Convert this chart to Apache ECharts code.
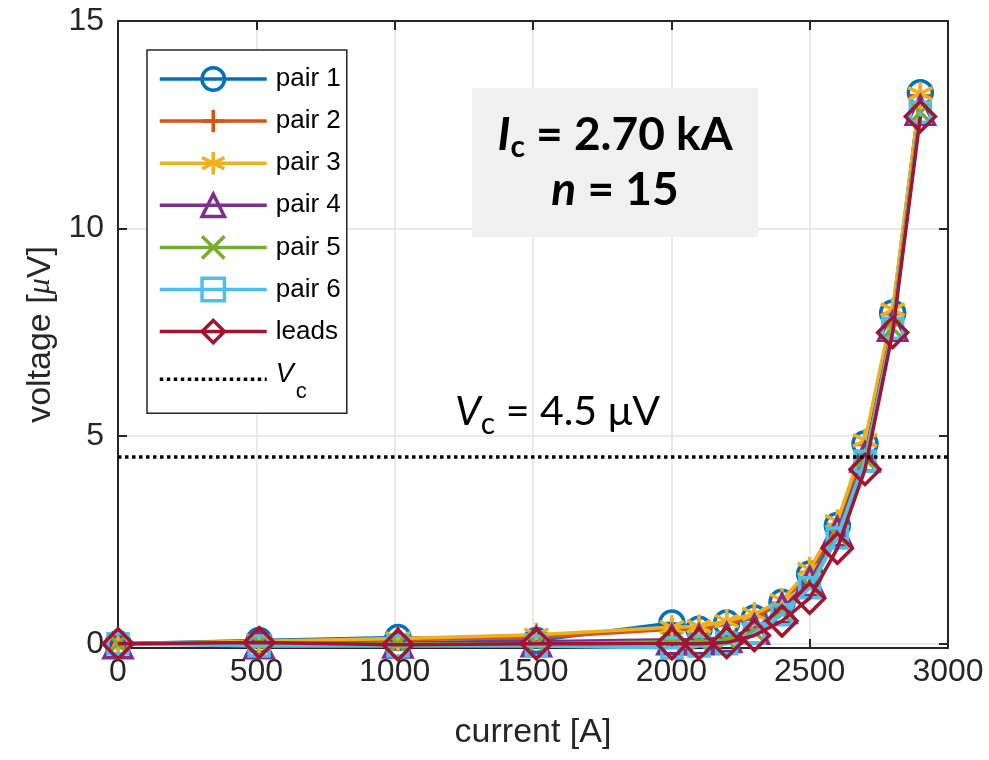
<!DOCTYPE html>
<html>
<head>
<meta charset="utf-8">
<script src="https://cdn.jsdelivr.net/npm/echarts@6/dist/echarts.min.js"></script>
<style>html,body{margin:0;padding:0;background:#fff}#c{width:989px;height:760px}</style>
</head>
<body>
<div id="c"></div>
<script>
// ---- data ----
const current = [0, 510, 1012, 1512, 2002, 2100, 2200, 2300, 2400, 2500, 2600, 2700, 2800, 2900];
const pair1 = [0, 0.08, 0.15, 0.08, 0.50, 0.35, 0.50, 0.62, 1.00, 1.68, 2.85, 4.82, 7.97, 13.27];
const pair2 = [0, 0.05, 0.10, 0.15, 0.35, 0.35, 0.48, 0.65, 0.98, 1.72, 2.87, 4.80, 7.95, 13.20];
const pair3 = [0, 0.06, 0.13, 0.22, 0.40, 0.42, 0.55, 0.72, 1.05, 1.80, 2.95, 4.90, 8.05, 13.25];
const pair4 = [0, 0.00, 0.02, 0.05, 0.10, 0.10, 0.15, 0.35, 0.85, 1.50, 2.70, 4.50, 7.65, 12.85];
const pair5 = [0, 0.02, 0.00, 0.00, 0.05, 0.05, 0.10, 0.30, 0.75, 1.40, 2.60, 4.45, 7.60, 12.80];
const pair6 = [0, -0.05, -0.05, -0.05, -0.10, -0.05, 0.00, 0.25, 0.70, 1.35, 2.55, 4.40, 7.60, 12.80];
const leads = [0, 0.03, -0.02, 0.00, 0.00, 0.00, 0.03, 0.20, 0.55, 1.10, 2.30, 4.20, 7.50, 12.70];
const Vc = 4.5;
const vcRange = [0, 3000];
const seriesNames = ['pair 1', 'pair 2', 'pair 3', 'pair 4', 'pair 5', 'pair 6', 'leads'];
const seriesValues = [pair1, pair2, pair3, pair4, pair5, pair6, leads];
const xTicks = [0, 500, 1000, 1500, 2000, 2500, 3000];
const yTicks = [0, 5, 10, 15];
const IcText = '2.70 kA';
const nText = '15';
const VcText = '4.5 μV';

// ---- styles ----
const colors = ['#0072BD', '#D95319', '#EDB120', '#7E2F8E', '#77AC30', '#4DBEEE', '#A2142F'];
const symbols = [
  'circle',
  'path://M0,-1L0,1M-1,0L1,0',
  'path://M0,-1L0,1M-0.866,-0.5L0.866,0.5M-0.866,0.5L0.866,-0.5',
  'triangle',
  'path://M-1,-1L1,1M-1,1L1,-1',
  'rect',
  'diamond'
];
const symSizes = [24, 22, 24, 28, 18, 20, 30];
const txt = '#262626';
const FONT = '"Liberation Sans", Arial, sans-serif';
const LATO = 'Lato, sans-serif';

const series = seriesValues.map((vals, i) => ({
  name: seriesNames[i],
  type: 'line',
  data: current.map((x, k) => [x, vals[k]]),
  symbol: symbols[i],
  symbolSize: symSizes[i],
  showAllSymbol: true,
  color: colors[i],
  lineStyle: { color: colors[i], width: 3.5 },
  itemStyle: { color: 'rgba(255,255,255,0)', borderColor: colors[i], borderWidth: 3.5 },
  emphasis: { disabled: true },
  animation: false,
  z: 2 + i
}));
series.push({
  name: 'Vc',
  type: 'line',
  data: vcRange.map(x => [x, Vc]),
  symbol: 'none',
  color: '#000',
  lineStyle: { color: '#000', width: 3.5, type: 'dotted' },
  emphasis: { disabled: true },
  animation: false,
  z: 20
});

const axisCommon = {
  axisLine: { show: true, onZero: false, lineStyle: { color: txt, width: 2 } },
  axisTick: { show: true, inside: true, length: 9, lineStyle: { color: txt, width: 2 } }
};

const legendData = seriesNames.map((n, i) => ({
  name: n,
  lineStyle: { width: 3.5, color: colors[i] },
  itemStyle: { color: 'rgba(255,255,255,0)', borderColor: colors[i], borderWidth: 3.5 }
}));
legendData.push({ name: 'Vc', lineStyle: { width: 3.5, color: '#000', type: 'dotted' }, itemStyle: { opacity: 0 } });

const chart = echarts.init(document.getElementById('c'), null, { renderer: 'canvas' });
chart.setOption({
  backgroundColor: '#fff',
  animation: false,
  grid: { left: 118, right: 41, top: 21, bottom: 112, containLabel: false },
  xAxis: [{
    type: 'value', min: 0, max: 3000, interval: 500, position: 'bottom',
    ...axisCommon,
    splitLine: { show: true, lineStyle: { color: '#e3e3e3', width: 1.5 } },
    axisLabel: { color: txt, fontSize: 32, fontFamily: FONT, margin: 8, formatter: v => String(v) },
    name: 'current [A]', nameLocation: 'middle', nameGap: 68,
    nameTextStyle: { color: txt, fontSize: 34, fontFamily: FONT }
  }, {
    type: 'value', min: 0, max: 3000, interval: 500, position: 'top',
    ...axisCommon,
    splitLine: { show: false }, axisLabel: { show: false }
  }],
  yAxis: [{
    type: 'value', min: -0.1, max: 15, position: 'left',
    ...axisCommon,
    axisTick: { ...axisCommon.axisTick, customValues: yTicks },
    splitLine: { show: true, lineStyle: { color: '#e3e3e3', width: 1.5 } },
    axisLabel: { color: txt, fontSize: 32, fontFamily: FONT, margin: 14, customValues: yTicks, formatter: v => String(v) },
    name: 'voltage [{m|μ}V]', nameLocation: 'middle', nameGap: 58, nameRotate: 90,
    nameTextStyle: { color: txt, fontSize: 34, fontFamily: FONT,
      rich: { m: { fontSize: 32, fontStyle: 'italic', fontFamily: '"Liberation Serif", serif', color: txt } } }
  }, {
    type: 'value', min: -0.1, max: 15, position: 'right',
    ...axisCommon,
    axisTick: { ...axisCommon.axisTick, customValues: yTicks },
    splitLine: { show: false }, axisLabel: { show: false, customValues: yTicks }
  }],
  legend: {
    orient: 'vertical', left: 147, top: 50,
    itemWidth: 107, itemHeight: 28, itemGap: 16.1,
    padding: [16, 6, 10, 11],
    backgroundColor: '#fff', borderColor: txt, borderWidth: 1.5, borderRadius: 0,
    selectedMode: false,
    data: legendData,
    formatter: n => n === 'Vc' ? '{v|V}{s|c}' : n,
    textStyle: { color: '#000', fontSize: 26, fontFamily: FONT, padding: [0, 0, 0, 4],
      rich: {
        v: { fontSize: 27, fontStyle: 'italic', fontFamily: FONT, color: '#000', padding: [0, 0, 10, 0] },
        s: { fontSize: 22, fontFamily: FONT, color: '#000', padding: [26, 0, 0, 2] }
      } }
  },
  graphic: [
    { type: 'rect', left: 472, top: 88, shape: { width: 286, height: 149 },
      style: { fill: '#f0f0f0' }, z: 30 },
    { type: 'text', x: 615, y: 135, z: 31,
      style: {
        text: '{i|I}{s|c}{b| = ' + IcText + '}', align: 'center', verticalAlign: 'middle',
        rich: {
          i: { fontSize: 46, fontWeight: 'bold', fontStyle: 'italic', fontFamily: LATO, fill: '#000' },
          s: { fontSize: 30, fontWeight: 'bold', fontFamily: LATO, fill: '#000', padding: [24, 0, 0, 0] },
          b: { fontSize: 46, fontWeight: 'bold', fontFamily: LATO, fill: '#000' }
        }
      } },
    { type: 'text', x: 615, y: 190, z: 31,
      style: {
        text: '{i|n}{b| = ' + nText + '}', align: 'center', verticalAlign: 'middle',
        rich: {
          i: { fontSize: 46, fontWeight: 'bold', fontStyle: 'italic', fontFamily: LATO, fill: '#000' },
          b: { fontSize: 46, fontWeight: 'bold', fontFamily: LATO, fill: '#000' }
        }
      } },
    { type: 'text', x: 455, y: 412, z: 31,
      style: {
        text: '{i|V}{s|c}{b| = ' + VcText + '}', align: 'left', verticalAlign: 'middle',
        rich: {
          i: { fontSize: 41, fontStyle: 'italic', fontFamily: LATO, fill: '#000' },
          s: { fontSize: 30, fontFamily: LATO, fill: '#000', padding: [24, 0, 0, 0] },
          b: { fontSize: 41, fontFamily: LATO, fill: '#000' }
        }
      } }
  ],
  series: series
});
</script>
</body>
</html>
